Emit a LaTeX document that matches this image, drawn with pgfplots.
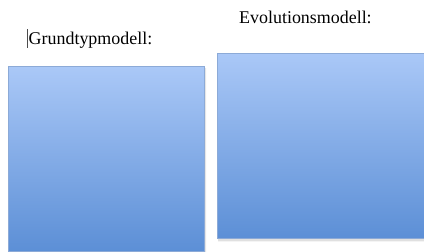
\documentclass[border=0pt]{standalone}
\usepackage{pgfplots}
\pgfplotsset{compat=1.18}
\usepackage{fontspec}
\setmainfont{Liberation Serif}
\definecolor{boxtop}{RGB}{170,200,247}
\definecolor{boxbot}{RGB}{92,143,214}
\definecolor{boxedge}{RGB}{140,170,215}
\begin{document}
\begin{tikzpicture}
\begin{axis}[
  scale only axis, width=424bp, height=252bp,
  xmin=0, xmax=424, ymin=0, ymax=252,
  hide axis, clip=true,
]
% shadows
\addplot[draw=none, fill=black, opacity=0.10] coordinates {(9,0) (206,0) (206,184) (9,184) (9,0)};
\addplot[draw=none, fill=black, opacity=0.12] coordinates {(218,10.5) (424,10.5) (424,198) (218,198) (218,10.5)};
% boxes
\addplot[draw=boxedge, line width=0.6pt, top color=boxtop, bottom color=boxbot] coordinates {(8,1) (204,1) (204,185.3) (8,185.3) (8,1)};
\addplot[draw=boxedge, line width=0.6pt, top color=boxtop, bottom color=boxbot] coordinates {(217,13.5) (424.5,13.5) (424.5,198.7) (217,198.7) (217,13.5)};
% labels
\node[anchor=base west, inner sep=0pt, font=\fontsize{18}{20}\selectfont] at (axis cs:28.5,207) {Grundtypmodell:};
\node[anchor=base west, inner sep=0pt, font=\fontsize{18}{20}\selectfont] at (axis cs:239,228) {Evolutionsmodell:};
\draw[black!70, line width=0.8pt] (axis cs:27.5,204) -- (axis cs:27.5,223);
\end{axis}
\pgfresetboundingbox
\path[use as bounding box] (0,0) rectangle (424bp,252bp);
\end{tikzpicture}
\end{document}
